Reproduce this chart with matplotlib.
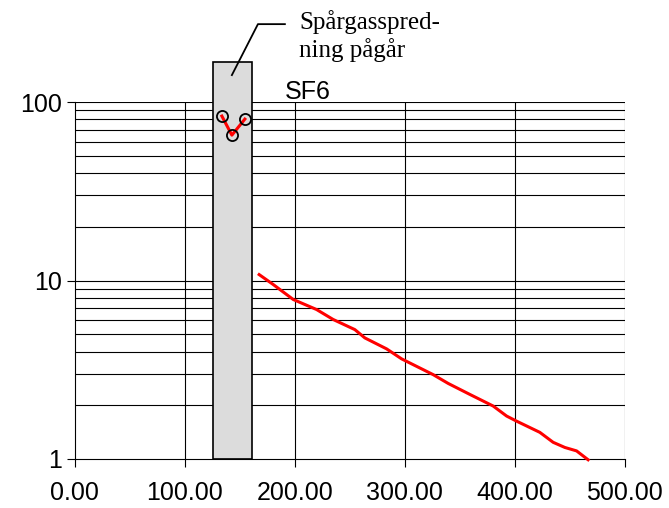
import numpy as np
import matplotlib.pyplot as plt
from matplotlib.patches import Rectangle

# Målinger under spredning (sirkler)
x_spred = [133.6, 142.7, 154.5]
y_spred = [83.5, 65.3, 80.3]

# Konsentrasjon etter spredning
x_sf6 = [167.5, 180.3, 198.5, 219.7, 234.8, 254.5, 263.6, 283.4, 297.0, 325.7,
         339.4, 359.1, 380.3, 392.5, 401.5, 422.7, 434.8, 445.5, 456.1, 466.6]
y_sf6 = [10.8, 9.5, 7.83, 6.88, 6.05, 5.31, 4.77, 4.14, 3.64, 2.97,
         2.65, 2.30, 1.98, 1.74, 1.63, 1.41, 1.24, 1.16, 1.11, 0.99]

# Periode med spredning
spred_start, spred_slutt, spred_topp = 125.5, 161.0, 167.0

xticks = [0, 100, 200, 300, 400, 500]
yticks = [1, 10, 100]

fig = plt.figure(figsize=(6.69, 5.08), dpi=100)
ax = fig.add_axes([0.112, 0.0965, 0.822, 0.7025])
ax.set_yscale('log')
ax.set_xlim(0, 500)
ax.set_ylim(1, 100)

# Rutenett
for v in xticks[1:]:
    ax.axvline(v, color='black', lw=0.8, zorder=1)
for dek in [1, 10]:
    for m in range(2, 11):
        ax.axhline(dek*m, color='black', lw=0.8, zorder=1)

ax.add_patch(Rectangle((spred_start, 1), spred_slutt-spred_start, spred_topp-1,
                       facecolor='#dcdcdc', edgecolor='black', lw=1.2,
                       clip_on=False, zorder=2))

ax.plot(x_spred, y_spred, color='red', lw=2.2, zorder=3)
ax.plot(x_spred, y_spred, 'o', ms=8, mfc='none', mec='black', mew=1.3, zorder=4)
ax.plot(x_sf6, y_sf6, color='red', lw=2.2, zorder=3, clip_on=False)

ax.text(191, 98, 'SF6', fontsize=18, family='Liberation Sans', va='bottom', ha='left')

# Merknad med strek
ax.plot([142.7, 166.4, 190.9], [141.7, 273.5, 273.5], color='black', lw=1.3,
        clip_on=False)
ax.text(204, 330, 'Spårgasspred-\nning pågår', fontsize=18, family='Liberation Serif',
        va='top', ha='left', linespacing=1.25)

for s in ['top', 'right']:
    ax.spines[s].set_visible(False)
ax.set_xticks(xticks)
ax.set_xticklabels(['%.2f' % v for v in xticks])
ax.set_yticks(yticks)
ax.set_yticklabels([str(v) for v in yticks])
ax.yaxis.set_minor_locator(plt.NullLocator())
ax.tick_params(labelsize=18, direction='out', length=6, width=0.8)
for lbl in ax.get_xticklabels() + ax.get_yticklabels():
    lbl.set_family('Liberation Sans')
ax.tick_params(axis='x', pad=10)

fig.savefig('out.png')
